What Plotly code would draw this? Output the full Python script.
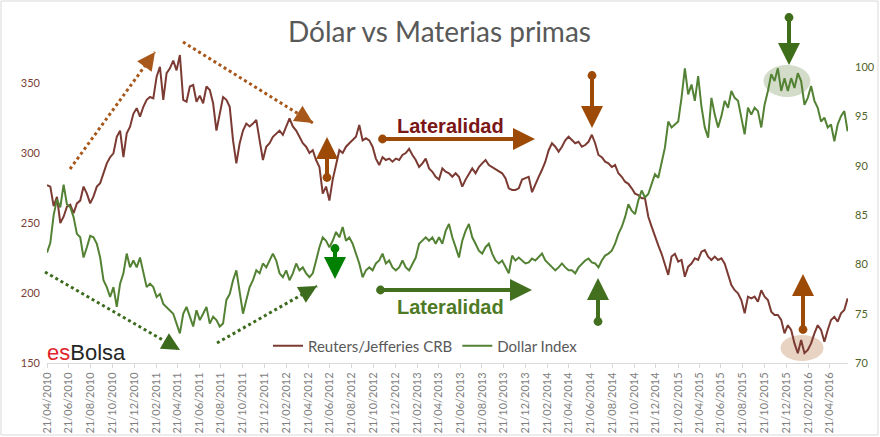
import pandas as pd
import plotly.graph_objects as go

# Reuters/Jefferies CRB index (about every 9 days)
crb = [277, 276, 262, 268.6, 250, 254.5, 261.6, 263, 257, 264,
       266, 276, 271, 264, 269, 276, 278.5, 285.5, 292.6, 297,
       299.8, 311.6, 316, 297, 314, 318.8, 328, 332, 326, 333,
       338, 340, 339, 354.5, 361.6, 338, 357, 360.5, 366, 359,
       370, 338, 336.6, 347.5, 348.6, 336.6, 341, 335.5, 347.5, 345,
       335.5, 316, 328, 340, 338, 333, 309, 292.6, 307, 316,
       321, 319,
       321, 323.6, 309, 295, 304.5, 307, 311.6, 314, 316, 313,
       319, 324.8, 319, 316, 311.6, 307, 304.5, 300, 302, 295,
       290, 271, 276, 266, 281, 292.6, 302, 300, 304.5, 307,
       309, 311.6, 320, 309, 310.5, 309, 304.5, 296, 291.4, 297,
       295, 296, 293.8, 296, 295, 298.6, 300, 303, 298.6, 295,
       290, 292.6, 296, 289, 286.6, 283, 281, 289, 286.6, 285.5,
       283, 285.5,
       283, 276, 281, 285.5, 289, 285.5, 290, 292.6, 295, 291.4,
       290, 288, 286.6, 285.5, 282, 274.8, 273.6, 273.6, 274.8, 281,
       282, 283, 272, 278, 283, 288, 293.8, 302, 307, 304.5,
       301, 304.5, 309, 311.6, 309, 307, 308, 304.5, 305.7, 308,
       313, 307, 298.6, 297, 293.8, 292.6, 290, 291.4, 285.5, 283,
       279.5, 278, 274.8, 271, 270, 267.6, 267.6, 254.5, 247.4, 240,
       234,
       228, 221, 212.9, 226, 228, 222.4, 223.6, 211.6, 218.8, 221,
       224.8, 223.6, 229.5, 230.7, 226, 223.6, 226, 223.6, 224.8, 221,
       214, 205.7, 202, 199.8, 195, 185.5, 197.4, 196.2, 197.4, 193.8,
       202, 197.4, 195, 186.7, 184.3, 184.3, 180.7, 171.2, 177, 173.6,
       164, 157, 166.4, 157, 159.3, 164, 171.2, 177, 173.6, 165.2,
       173.6, 180.7, 183, 179.5, 185.5, 187.9, 196.2]

# Dollar Index, same dates
dxy = [81.2, 82.2, 85.0, 86.6, 85.8, 88.1, 86.1, 85.8, 84.8, 83.1,
       82.75, 80.7, 81.75, 82.9, 82.75, 82.1, 80.7, 78.4, 77.7, 76.7,
       77.7, 75.7, 78.05, 79.1, 81.1, 79.7, 80.4, 79.7, 80.7, 79.1,
       77.7, 78.05, 77.7, 76.7, 77.0, 76.0, 75.7, 75.35, 75.0, 74.0,
       73.0, 75.0, 75.7, 74.7, 73.7, 75.35, 74.35, 75.0, 75.7, 74.0,
       74.7, 74.35, 73.7, 74.0, 76.4, 77.0, 78.4, 79.4, 77.0, 75.0,
       76.4, 77.7,
       78.4, 79.4, 79.1, 80.1, 79.7, 80.4, 81.1, 80.4, 79.1, 78.7,
       79.4, 78.4, 79.1, 80.1, 79.4, 79.7, 79.1, 78.7, 79.1, 80.4,
       81.75, 82.75, 82.4, 81.75, 82.4, 83.3, 82.75, 83.8, 82.4, 82.75,
       82.1, 81.1, 80.1, 78.7, 79.4, 79.7, 79.4, 80.1, 80.4, 81.1,
       80.1, 80.4, 79.7, 79.4, 79.7, 80.4, 79.7, 79.4, 80.1, 80.7,
       82.1, 82.4, 82.75, 82.4, 82.75, 82.1, 82.75, 82.1, 83.4, 84.1,
       82.75, 81.75,
       80.7, 82.4, 83.4, 84.1, 82.75, 82.1, 81.4, 81.1, 81.75, 82.1,
       81.1, 80.4, 80.1, 80.4, 79.7, 79.1, 80.9, 80.4, 80.7, 80.4,
       80.1, 80.2, 80.6, 80.4, 80.7, 81.1, 80.4, 80.1, 79.7, 79.4,
       79.7, 80.1, 79.7, 79.4, 79.4, 79.1, 79.7, 80.1, 80.4, 80.6,
       80.2, 80.1, 79.7, 80.4, 80.9, 81.1, 81.4, 82.1, 83.1, 83.8,
       84.8, 86.1, 85.45, 85.1, 86.5, 87.5, 86.8, 87.15, 88.15, 89.15,
       88.8,
       90.2, 91.85, 94.5, 93.9, 94.2, 94.5, 96.9, 99.9, 97.25, 98.25,
       96.6, 99.1, 96.0, 93.9, 92.85, 96.9, 95.2, 93.9, 95.05, 96.6,
       95.9, 97.6, 96.9, 96.6, 94.9, 93.2, 95.9, 95.2, 95.9, 95.55,
       93.9, 96.2, 97.6, 99.3, 98.6, 99.9, 97.6, 98.9, 97.6, 98.9,
       97.9, 99.4, 98.6, 96.2, 96.9, 98.1, 96.6, 95.9, 94.5, 94.9,
       93.9, 94.2, 92.5, 94.2, 95.05, 95.55, 93.5]

dates = pd.date_range("2010-04-21", "2016-06-10", periods=len(crb))
tick_dates = pd.date_range("2010-04-21", "2016-04-21", freq=pd.DateOffset(months=2))
tick_text = [d.strftime("%d/%m/%Y") for d in tick_dates]
crb_ticks = [150, 200, 250, 300, 350]
dxy_ticks = [70, 75, 80, 85, 90, 95, 100]

BROWN = "#7b3b33"
GREEN = "#548235"
ORANGE = "#9c4a06"

# plot area in pixels: left 47, right 848, top 20, bottom 363
L, R, T, B = 47, 848, 20, 363


def px(x):
    return (x - L) / (R - L)


def py(y):
    return (B - y) / (B - T)


fig = go.Figure()
fig.add_trace(go.Scatter(x=dates, y=crb, mode="lines", name="Reuters/Jefferies CRB",
                         line=dict(color=BROWN, width=2)))
fig.add_trace(go.Scatter(x=dates, y=dxy, mode="lines", name="Dollar Index",
                         line=dict(color=GREEN, width=2), yaxis="y2"))

annotations = []
shapes = []


def dotted_arrow(x0, y0, x1, y1, color):
    shapes.append(dict(type="line", xref="paper", yref="paper",
                       x0=px(x0), y0=py(y0), x1=px(x1), y1=py(y1),
                       line=dict(color=color, width=3, dash="dot")))
    dx, dy = x0 - x1, y0 - y1
    n = (dx ** 2 + dy ** 2) ** 0.5
    annotations.append(dict(xref="paper", yref="paper", x=px(x1), y=py(y1),
                            ax=dx / n * 8, ay=dy / n * 8, text="", showarrow=True,
                            arrowhead=2, arrowsize=1.2, arrowwidth=3, arrowcolor=color))


def pin_arrow(x0, y0, x1, y1, color, width=4, size=1.1):
    annotations.append(dict(xref="paper", yref="paper", x=px(x1), y=py(y1),
                            ax=x0 - x1, ay=y0 - y1, text="", showarrow=True,
                            arrowhead=2, arrowsize=size, arrowwidth=width,
                            arrowside="end+start", startarrowhead=6, startarrowsize=0.55,
                            arrowcolor=color))


def label(x, y, text, size, color, family="Liberation Sans, Arial", anchor="center"):
    annotations.append(dict(xref="paper", yref="paper", x=px(x), y=py(y), text=text,
                            xanchor=anchor, yanchor="middle", showarrow=False,
                            font=dict(family=family, size=size, color=color)))


def ellipse(cx, cy, w, h, color):
    shapes.append(dict(type="circle", xref="paper", yref="paper", layer="below",
                       x0=px(cx - w / 2), x1=px(cx + w / 2),
                       y0=py(cy + h / 2), y1=py(cy - h / 2),
                       fillcolor=color, line=dict(width=0)))


ellipse(787, 81, 47, 32, "#d3dcc8")
ellipse(802, 348, 43, 26, "#e8d3c2")

dotted_arrow(70, 169, 155, 52, "#a8571a")
dotted_arrow(183, 42, 313, 123, "#a8571a")
dotted_arrow(45, 272, 180, 350, "#3d6b1d")
dotted_arrow(217, 343, 317, 286, "#3d6b1d")

pin_arrow(327, 179, 327, 137, ORANGE)
pin_arrow(335, 247, 335, 279, "#008000")
pin_arrow(381, 139, 535, 139, ORANGE)
pin_arrow(379, 290, 532, 290, "#42701e")
pin_arrow(592, 74, 592, 128, ORANGE)
pin_arrow(598, 323, 598, 278, "#42701e")
pin_arrow(789, 16, 789, 65, "#3f6e1a")
pin_arrow(803, 331, 803, 274, ORANGE)

label(450, 126, "<b>Lateralidad</b>", 20, "#7a1616")
label(450, 307, "<b>Lateralidad</b>", 20, "#4e7a25")
label(45, 352, "<span style='color:#e0262b'>es</span>Bolsa", 22, "#262626", anchor="left")
label(439, 31, "Dólar vs Materias primas", 28, "#595959", family="Lato")

# outer chart border
shapes.append(dict(type="rect", xref="paper", yref="paper",
                   x0=px(1), x1=px(878), y0=py(435), y1=py(1),
                   line=dict(color="#d9d9d9", width=1)))

fig.update_layout(
    width=880, height=437,
    margin=dict(l=L, r=880 - R, t=T, b=437 - B, autoexpand=False),
    paper_bgcolor="white", plot_bgcolor="white",
    font=dict(family="Lato", color="#595959"),
    showlegend=True,
    legend=dict(orientation="h", x=px(268), y=py(346), xanchor="left", yanchor="middle",
                font=dict(size=15, color="#595959"), bgcolor="rgba(0,0,0,0)",
                itemwidth=30, tracegroupgap=0),
    xaxis=dict(type="date", range=["2010-04-21", "2016-06-11"],
               tickvals=tick_dates, ticktext=tick_text, tickangle=-90,
               tickfont=dict(size=11, color="#7f7f7f"), automargin=False,
               showgrid=False, zeroline=False, showline=True, linecolor="#d9d9d9",
               ticks="outside", ticklen=4, tickcolor="#d9d9d9"),
    yaxis=dict(range=[150, 395], tickvals=crb_ticks, showgrid=False, zeroline=False,
               showline=False, tickfont=dict(size=11, color="#7b3f35"),
               ticklabelstandoff=6, automargin=False),
    yaxis2=dict(range=[70, 104.8], tickvals=dxy_ticks, overlaying="y", side="right",
                showgrid=False, zeroline=False, showline=False,
                tickfont=dict(size=11, color="#4f6228"), ticklabelstandoff=6,
                automargin=False),
    annotations=annotations,
    shapes=shapes,
)

# the page body has an 8px default margin; drop it so the figure fills the window
fig.write_html("out.html", config={"displayModeBar": False},
               post_script="document.body.style.margin='0';")
